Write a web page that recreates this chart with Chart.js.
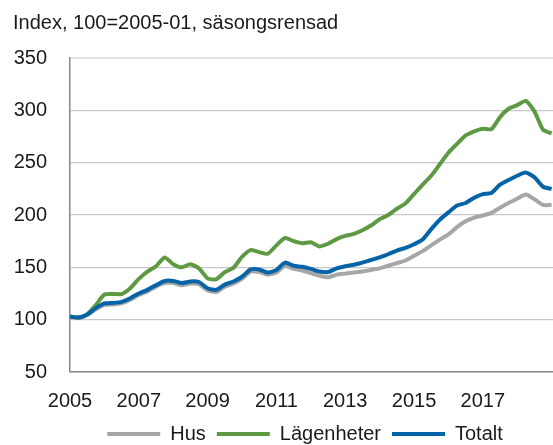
<!DOCTYPE html>
<html>
<head>
<meta charset="utf-8">
<script src="https://cdn.jsdelivr.net/npm/chart.js@4/dist/chart.umd.min.js"></script>
<style>
  html, body { margin: 0; padding: 0; background: #fff; }
  #wrap { width: 553px; height: 445px; }
</style>
</head>
<body>
<div id="wrap"><canvas id="chart" width="553" height="445"></canvas></div>
<script>
// quarterly readings, index 100 = 2005-01
const dates = [
  '2005-01','2005-04','2005-07','2005-10','2006-01','2006-04','2006-07','2006-10',
  '2007-01','2007-04','2007-07','2007-10','2008-01','2008-04','2008-07','2008-10',
  '2009-01','2009-04','2009-07','2009-10','2010-01','2010-04','2010-07','2010-10',
  '2011-01','2011-04','2011-07','2011-10','2012-01','2012-04','2012-07','2012-10',
  '2013-01','2013-04','2013-07','2013-10','2014-01','2014-04','2014-07','2014-10',
  '2015-01','2015-04','2015-07','2015-10','2016-01','2016-04','2016-07','2016-10',
  '2017-01','2017-04','2017-07','2017-10','2018-01','2018-04','2018-07','2018-10',
  '2019-01'
];
const hus = [
  102.5, 101.5, 104.5, 110, 114, 114.5, 115.5, 119,
  123.5, 127, 131.5, 135, 135, 133, 134.5, 134,
  128, 126.5, 131.5, 134.5, 139, 146, 145.5, 143,
  145, 151.5, 148.5, 147, 144.5, 142, 140.5, 143,
  144, 145, 146, 147.5, 149, 151.5, 154, 156.5,
  161, 165.5, 171, 176.5, 181.5, 188.5, 194, 197.5,
  199.5, 202, 207, 211.5, 215.5, 219.5, 215, 209.6,
  209.6
];
const lagenheter = [
  103, 102, 105, 114, 124, 124.5, 124.5, 130,
  139, 146, 151, 159.5, 153, 150, 153, 149,
  139.5, 138.5, 145.5, 149.5, 160, 166.5, 164.5, 163,
  171, 178, 175, 173, 174, 170, 172.5, 177,
  180, 182, 185.5, 190, 196, 200, 206, 211,
  220, 229, 237.5, 248.5, 259.5, 268, 276, 280,
  282.5, 282, 293.5, 301.5, 305, 309, 299, 281.5,
  278
];
const totalt = [
  103, 102, 105, 111, 115.5, 116, 117, 120.5,
  125, 128.5, 133, 137, 137, 135, 136.5, 136,
  130, 128.5, 133.5, 136.5, 141, 148, 148, 145,
  147.5, 154.5, 151.5, 150.5, 148.5, 146, 145.5, 149,
  151, 152.5, 154.5, 157, 159.5, 162.5, 166, 168.5,
  172, 176.5, 186.5, 195.5, 202.5, 209, 211.5, 216.5,
  220, 221, 229, 233.5, 237.5, 240.5, 236, 227,
  225
];
const yearTicks = [2005, 2007, 2009, 2011, 2013, 2015, 2017];

const FONT = "'Liberation Sans', Arial, Helvetica, sans-serif";
const TEXT = '#1a1a1a';

function toYear(s) {
  const [y, m] = s.split('-').map(Number);
  return y + (m - 1) / 12;
}

function points(values) {
  return values.map((v, i) => ({ x: toYear(dates[i]), y: v }));
}

const series = [
  { label: 'Hus', values: hus, color: '#a6a6a6', order: 2 },
  { label: 'Lägenheter', values: lagenheter, color: '#5e9a44', order: 1 },
  { label: 'Totalt', values: totalt, color: '#0563a8', order: 0 }
];

// legend sits a bit right of centre in the original
const shiftLegend = {
  id: 'shiftLegend',
  afterLayout(chart) {
    chart.legend.left += 22;
    chart.legend.right += 22;
  }
};

new Chart(document.getElementById('chart'), {
  type: 'line',
  data: {
    datasets: series.map(s => ({
      label: s.label,
      data: points(s.values),
      borderColor: s.color,
      backgroundColor: s.color,
      borderWidth: 4,
      pointRadius: 0,
      tension: 0.2,
      order: s.order
    }))
  },
  options: {
    responsive: false,
    animation: false,
    layout: { padding: { left: 13, right: 0, top: 0, bottom: -9 } },
    plugins: {
      title: {
        display: true,
        text: 'Index, 100=2005-01, säsongsrensad',
        align: 'start',
        color: TEXT,
        font: { family: FONT, size: 20, weight: 'normal' },
        padding: { top: 11, bottom: 23 }
      },
      legend: {
        position: 'bottom',
        labels: {
          color: TEXT,
          font: { family: FONT, size: 20 },
          boxWidth: 53,
          boxHeight: 4,
          padding: 11,
          generateLabels: chart => chart.data.datasets.map((ds, i) => ({
            text: ds.label,
            fillStyle: ds.borderColor,
            strokeStyle: ds.borderColor,
            lineWidth: 0,
            fontColor: TEXT,
            datasetIndex: i
          }))
        }
      },
      tooltip: { enabled: false }
    },
    scales: {
      x: {
        type: 'linear',
        min: 2005,
        max: 2019.04,
        afterBuildTicks: axis => {
          axis.ticks = yearTicks.map(v => ({ value: v }));
        },
        afterFit: axis => { axis.height = 41; },
        ticks: {
          color: TEXT,
          font: { family: FONT, size: 20 },
          padding: 17,
          maxRotation: 0,
          autoSkip: false,
          callback: v => String(v)
        },
        grid: { display: false, drawTicks: false },
        border: { display: true, color: '#8a8a8a', width: 1.5 }
      },
      y: {
        min: 50,
        max: 350,
        afterFit: axis => { axis.width = 57; },
        ticks: {
          stepSize: 50,
          color: TEXT,
          font: { family: FONT, size: 20 },
          padding: 23
        },
        grid: {
          color: c => (c.tick && c.tick.value === 350 ? '#e2e2e2' : '#c8c8c8'),
          lineWidth: c => (c.tick && c.tick.value === 350 ? 2 : 1.2),
          drawTicks: false
        },
        border: { display: true, color: '#8a8a8a', width: 1.5 }
      }
    }
  },
  plugins: [shiftLegend]
});
</script>
</body>
</html>
